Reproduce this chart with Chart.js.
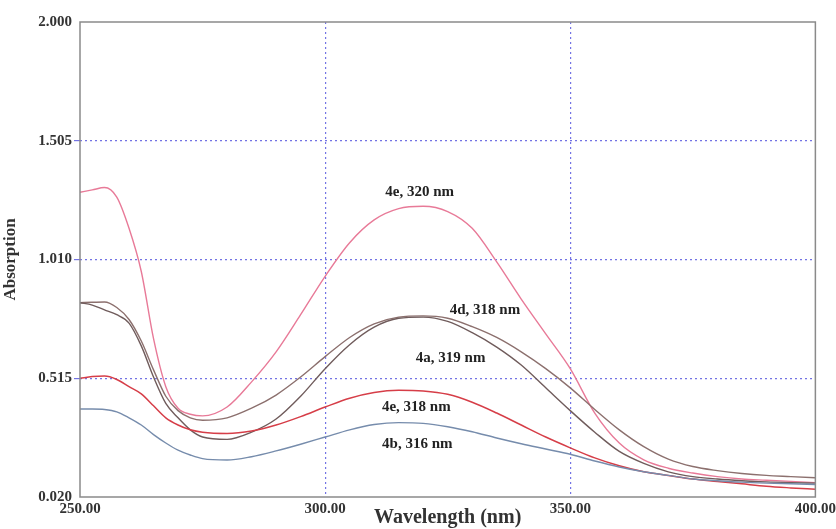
<!DOCTYPE html>
<html>
<head>
<meta charset="utf-8">
<script src="https://cdn.jsdelivr.net/npm/chart.js@4.4.1/dist/chart.umd.min.js"></script>
<style>
  body { margin: 0; background: #fff; }
</style>
</head>
<body>
<canvas id="myChart" width="836" height="529"></canvas>
<script>
var wavelengths = [250,252.5,255,257.5,260,262.5,265,267.5,270,272.5,275,280,285,290,295,300,305,310,315,320,325,330,335,340,345,350,355,360,365,370,375,380,385,390,395,400];

var abs4e320 = [1.29,1.30,1.31,1.27,1.14,0.96,0.68,0.48,0.39,0.365,0.358,0.395,0.50,0.625,0.78,0.94,1.08,1.175,1.222,1.232,1.21,1.14,1.0,0.845,0.70,0.555,0.37,0.245,0.175,0.14,0.12,0.105,0.095,0.09,0.085,0.08];
var abs4d = [0.83,0.832,0.833,0.81,0.76,0.67,0.55,0.44,0.38,0.35,0.34,0.35,0.39,0.445,0.52,0.605,0.685,0.742,0.77,0.775,0.765,0.73,0.685,0.625,0.555,0.475,0.385,0.30,0.23,0.178,0.147,0.13,0.118,0.11,0.105,0.10];
var abs4a = [0.83,0.82,0.80,0.78,0.745,0.65,0.52,0.41,0.35,0.30,0.27,0.26,0.29,0.345,0.44,0.555,0.655,0.728,0.765,0.77,0.752,0.705,0.645,0.57,0.475,0.38,0.29,0.21,0.16,0.125,0.105,0.095,0.088,0.083,0.08,0.078];
var abs4e318 = [0.515,0.522,0.524,0.51,0.48,0.45,0.40,0.35,0.32,0.30,0.29,0.285,0.295,0.32,0.355,0.395,0.432,0.456,0.465,0.462,0.448,0.415,0.37,0.32,0.27,0.225,0.183,0.15,0.125,0.11,0.095,0.085,0.075,0.065,0.058,0.052];
var abs4b = [0.387,0.387,0.385,0.375,0.35,0.32,0.28,0.245,0.215,0.195,0.18,0.174,0.188,0.212,0.24,0.27,0.30,0.322,0.33,0.327,0.313,0.292,0.266,0.242,0.22,0.198,0.17,0.145,0.125,0.11,0.095,0.088,0.082,0.078,0.075,0.072];

var xTicks = [250, 300, 350, 400];
var yTicks = [0.020, 0.515, 1.010, 1.505, 2.000];

// curve labels: text, wavelength, absorption
var labelTexts = ["4e, 320 nm", "4d, 318 nm", "4a, 319 nm", "4e, 318 nm", "4b, 316 nm"];
var labelNm = [319.3, 332.6, 325.6, 318.6, 318.8];
var labelAbs = [1.29, 0.80, 0.60, 0.393, 0.24];

var FONT = "'Liberation Serif', 'Times New Roman', serif";
var GRID = "rgba(100,100,225,0.9)";

function pts(vals) {
  return vals.map(function(v, i) { return {x: wavelengths[i], y: v}; });
}

function edgeColor(ctx) {
  var n = ctx.scale.ticks.length;
  if (ctx.index === 0 || ctx.index === n - 1) return "rgba(0,0,0,0)";
  return GRID;
}

var framePlugin = {
  id: "frame",
  afterDatasetsDraw: function(chart) {
    var a = chart.chartArea, c = chart.ctx;
    c.save();
    c.strokeStyle = "#8a8a8a";
    c.lineWidth = 1.5;
    c.strokeRect(a.left, a.top, a.right - a.left, a.bottom - a.top);
    c.restore();
  }
};

var labelPlugin = {
  id: "curveLabels",
  afterDatasetsDraw: function(chart) {
    var c = chart.ctx, xs = chart.scales.x, ys = chart.scales.y;
    c.save();
    c.font = "bold 15px " + FONT;
    c.fillStyle = "#222";
    c.textAlign = "center";
    c.textBaseline = "middle";
    for (var i = 0; i < labelTexts.length; i++) {
      c.fillText(labelTexts[i], xs.getPixelForValue(labelNm[i]), ys.getPixelForValue(labelAbs[i]));
    }
    c.restore();
  }
};

new Chart("myChart", {
  type: "line",
  data: {
    datasets: [
      {label: "4b, 316 nm", data: pts(abs4b), borderColor: "rgb(118,140,172)", borderWidth: 1.4},
      {label: "4e, 318 nm", data: pts(abs4e318), borderColor: "rgb(214,62,72)", borderWidth: 1.5},
      {label: "4a, 319 nm", data: pts(abs4a), borderColor: "rgb(112,92,92)", borderWidth: 1.4},
      {label: "4d, 318 nm", data: pts(abs4d), borderColor: "rgb(140,112,110)", borderWidth: 1.4},
      {label: "4e, 320 nm", data: pts(abs4e320), borderColor: "rgb(232,122,152)", borderWidth: 1.4}
    ]
  },
  options: {
    responsive: false,
    animation: false,
    layout: {padding: {top: 22, right: 19, left: 0, bottom: 0}},
    elements: {
      point: {radius: 0},
      line: {cubicInterpolationMode: "monotone", fill: false}
    },
    plugins: {
      legend: {display: false},
      tooltip: {enabled: false}
    },
    scales: {
      x: {
        type: "linear",
        min: 250,
        max: 400,
        afterBuildTicks: function(s) { s.ticks = xTicks.map(function(v) { return {value: v}; }); },
        afterFit: function(s) { s.height = 32; },
        grid: {color: edgeColor, lineWidth: 1.2, drawTicks: true, tickLength: 3, tickColor: "rgba(0,0,0,0)"},
        border: {display: false, dash: [2, 3]},
        ticks: {
          color: "#333",
          padding: 0,
          maxRotation: 0,
          font: {family: FONT, size: 15, weight: "bold"},
          callback: function(v) { return Number(v).toFixed(2); }
        },
        title: {
          display: true,
          text: "Wavelength (nm)",
          color: "#333",
          padding: 0,
          font: {family: FONT, size: 20, weight: "bold", lineHeight: 1.1}
        }
      },
      y: {
        type: "linear",
        min: 0.02,
        max: 2.0,
        afterBuildTicks: function(s) { s.ticks = yTicks.map(function(v) { return {value: v}; }); },
        afterFit: function(s) { s.width = 80; },
        grid: {color: edgeColor, lineWidth: 1.2, drawTicks: true, tickLength: 6},
        border: {display: false, dash: [2, 3]},
        ticks: {
          color: "#333",
          padding: 2,
          font: {family: FONT, size: 15, weight: "bold"},
          callback: function(v) { return Number(v).toFixed(3); }
        },
        title: {
          display: true,
          text: "Absorption",
          color: "#333",
          padding: {top: 0, bottom: 11},
          font: {family: FONT, size: 17, weight: "bold", lineHeight: 1.2}
        }
      }
    }
  },
  plugins: [framePlugin, labelPlugin]
});
</script>
</body>
</html>
